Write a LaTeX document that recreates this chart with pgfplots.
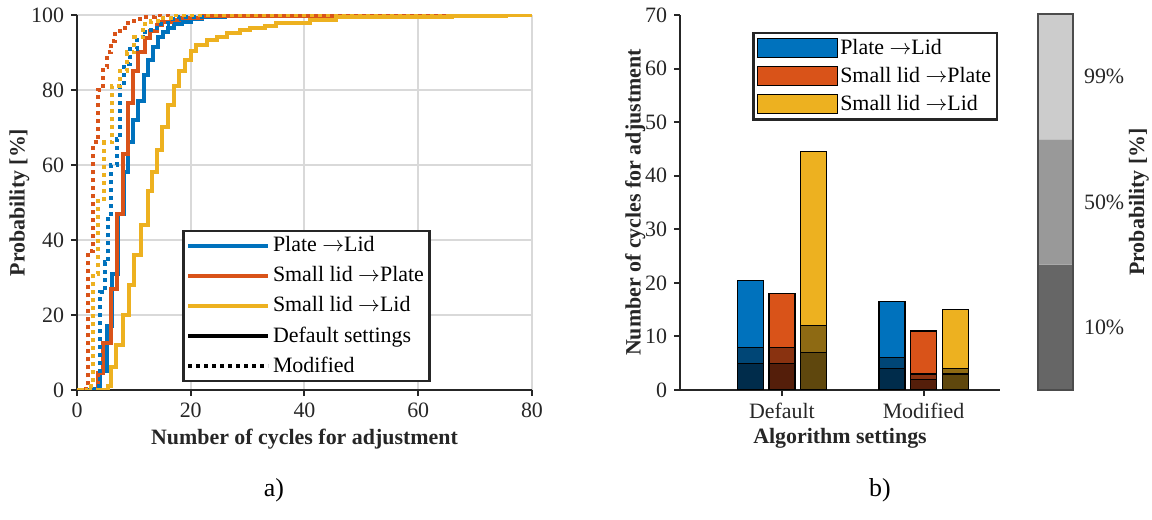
\documentclass[border=0pt]{standalone}
\usepackage{pgfplots}
\pgfplotsset{compat=1.18}
\usepackage{fontspec}
\setmainfont{Liberation Serif}
\definecolor{cB}{RGB}{0,114,189}
\definecolor{cR}{RGB}{217,83,25}
\definecolor{cY}{RGB}{237,177,32}
\definecolor{cBm}{RGB}{0,70,118}
\definecolor{cRm}{RGB}{137,50,16}
\definecolor{cYm}{RGB}{142,106,19}
\definecolor{cBd}{RGB}{0,44,75}
\definecolor{cRd}{RGB}{84,30,10}
\definecolor{cYd}{RGB}{95,71,13}
\definecolor{axc}{RGB}{38,38,38}
\definecolor{cb1}{RGB}{102,102,102}
\definecolor{cb2}{RGB}{153,153,153}
\definecolor{cb3}{RGB}{204,204,204}
\pgfplotsset{
  mystyle/.style={
    scale only axis,
    anchor=south west,
    axis x line*=bottom, axis y line*=left,
    axis line style={axc, line width=1.3bp, -},
    tick style={axc, line width=1bp},
    tick align=outside, major tick length=3bp,
    tick label style={font=\fontsize{11}{13}\selectfont, text=axc},
    /pgf/number format/assume math mode=true,
    label style={font=\bfseries\fontsize{11}{13}\selectfont, text=axc},
  }
}
\begin{document}
\begin{tikzpicture}
\useasboundingbox (0,0) rectangle (576bp,260bp);
% ---------------- a) ----------------
\begin{axis}[mystyle,
  at={(38.5bp,65bp)},
  width=227.5bp, height=187.5bp,
  xmin=0, xmax=80, ymin=0, ymax=100,
  xtick={0,20,...,80}, ytick={0,20,...,100},
  grid=major, major grid style={black!15, line width=1bp},
  xlabel={Number of cycles for adjustment},
  ylabel={Probability [\%]},
  xlabel style={yshift=1bp},
  ylabel style={yshift=-6bp},
  legend style={at={(0.231,0.427)}, anchor=north west, draw=axc, line width=1.3bp,
    font=\fontsize{11}{12}\selectfont, row sep=3.3bp, inner sep=1.5bp,
    nodes={inner sep=1.3bp}},
  legend cell align=left,
  legend image code/.code={\draw[#1, line width=2bp] (0bp,0bp) -- (40bp,0bp);},
]
% solid = default settings
\addplot[const plot, cB, line width=2bp] coordinates {
(0,0)(4,5)(5.2,17)(6.2,31)(7.2,47)(8.2,58)(9,66)(9.9,72)(10.8,77)(11.7,84)(12.5,88)
(13.4,91.5)(14.3,94.2)(15.2,95.5)(16,96.5)(17,97.5)(18.5,98.2)(20,99)(22,99.5)(26,99.8)(30,100)(80,100)};
\addlegendentry{Plate $\rightarrow$Lid}
\addplot[const plot, cR, line width=2bp] coordinates {
(0,0)(3.7,4.4)(4.6,12.4)(6,27)(7,47)(8.1,63)(8.9,76.5)(9.9,85)(10.8,90.2)(12,93.8)(12.8,95.6)
(14,97.3)(15,98)(16.5,98.7)(18,99.2)(22,99.6)(59,100)(80,100)};
\addlegendentry{Small lid $\rightarrow$Plate}
\addplot[const plot, cY, line width=2bp] coordinates {
(0,0)(5.5,1)(6,6)(6.8,12)(8.1,20)(9.2,28)(10.1,36)(11.2,44)(12.4,53)(13.1,58)(14,64)(15,70)
(16,76)(17,81)(18,85)(19,88)(20,90.5)(21,92)(22.8,93.3)(24.6,94.2)(26.3,95.1)(28.7,96)(30.4,96.5)
(33,97)(35,97.8)(41,98.7)(45.6,99.4)(66,99.7)(75.5,100)(80,100)};
\addlegendentry{Small lid $\rightarrow$Lid}
\addlegendimage{black, line width=2bp}
\addlegendentry{Default settings}
\addlegendimage{black, line width=2bp, dash pattern=on 2bp off 2bp}
\addlegendentry{Modified}
% dotted = modified
\addplot[forget plot, const plot, cB, line width=2bp, dash pattern=on 2bp off 2bp] coordinates {
(0,0)(3,1)(4,26)(4.9,34)(5.5,47)(6,60)(7,67)(7.5,81)(8.3,87)(9.3,91)(10.5,94)(12,96)(14,97.5)
(16,98.8)(18,99.5)(22,100)(80,100)};
\addplot[forget plot, const plot, cR, line width=2bp, dash pattern=on 2bp off 2bp] coordinates {
(0,0)(1.5,1)(2,37)(2.9,66)(3.7,80)(4.5,86)(5.2,90)(6,93)(6.7,95)(7.5,96.5)(8.4,97.8)(10,99)
(11.4,99.5)(13.7,100)(80,100)};
\addplot[forget plot, const plot, cY, line width=2bp, dash pattern=on 2bp off 2bp] coordinates {
(0,0)(2,1)(2.9,31)(3.7,51)(4.7,66)(6.2,81)(7.5,85)(8.8,90)(10,94)(11.6,97.5)(13,98.5)(14.6,99.3)
(17,100)(80,100)};
\end{axis}
% ---------------- b) ----------------
\begin{axis}[mystyle,
  at={(340bp,65bp)},
  width=160bp, height=187.5bp,
  xmin=0.28, xmax=2.54, ymin=0, ymax=70,
  xtick={1,2}, xticklabels={Default,Modified},
  ytick={0,10,...,70},
  xlabel={Algorithm settings},
  ylabel={Number of cycles for adjustment},
  xlabel style={yshift=2bp},
  ylabel style={yshift=-7bp},
  legend style={at={(0.225,0.955)}, anchor=north west, draw=axc, line width=1.3bp,
    font=\fontsize{11}{12}\selectfont, row sep=2.5bp, inner sep=1.8bp,
    nodes={inner sep=1.2bp}},
  legend cell align=left,
  legend image code/.code={\draw[#1, draw=black, line width=0.5bp] (0bp,-4.7bp) rectangle (40bp,4.7bp);},
]
\addplot[ybar, bar width=13bp, bar shift=-15.8bp, fill=cB, draw=black, line width=0.6bp] coordinates {(1,20.5)(2,16.5)};
\addlegendentry{Plate $\rightarrow$Lid}
\addplot[ybar, bar width=13bp, bar shift=0bp, fill=cR, draw=black, line width=0.6bp] coordinates {(1,18)(2,11)};
\addlegendentry{Small lid $\rightarrow$Plate}
\addplot[ybar, bar width=13bp, bar shift=15.8bp, fill=cY, draw=black, line width=0.6bp] coordinates {(1,44.5)(2,15)};
\addlegendentry{Small lid $\rightarrow$Lid}
% 50 %
\addplot[forget plot, ybar, bar width=13bp, bar shift=-15.8bp, fill=cBm, draw=black, line width=0.6bp] coordinates {(1,8)(2,6)};
\addplot[forget plot, ybar, bar width=13bp, bar shift=0bp, fill=cRm, draw=black, line width=0.6bp] coordinates {(1,8)(2,3)};
\addplot[forget plot, ybar, bar width=13bp, bar shift=15.8bp, fill=cYm, draw=black, line width=0.6bp] coordinates {(1,12)(2,4)};
% 10 %
\addplot[forget plot, ybar, bar width=13bp, bar shift=-15.8bp, fill=cBd, draw=black, line width=0.6bp] coordinates {(1,5)(2,4)};
\addplot[forget plot, ybar, bar width=13bp, bar shift=0bp, fill=cRd, draw=black, line width=0.6bp] coordinates {(1,5)(2,2)};
\addplot[forget plot, ybar, bar width=13bp, bar shift=15.8bp, fill=cYd, draw=black, line width=0.6bp] coordinates {(1,7)(2,3)};
\end{axis}
% ---------------- colour bar ----------------
\begin{axis}[
  scale only axis, anchor=south west,
  at={(519bp,65bp)},
  width=17.5bp, height=188bp,
  xmin=0, xmax=1, ymin=0, ymax=3,
  xtick=\empty, ytick={0.5,1.5,2.5}, yticklabels={10\%,50\%,99\%},
  yticklabel pos=right, major tick length=0bp,
  axis line style={black!70, line width=0.7bp},
  axis on top,
  tick label style={font=\fontsize{11}{13}\selectfont, text=axc},
  yticklabel style={xshift=2bp},
  ylabel={Probability [\%]},
  label style={font=\bfseries\fontsize{11}{13}\selectfont, text=axc},
  ylabel style={yshift=4.5bp},
]
\addplot[draw=none, fill=cb1] coordinates {(0,0)(1,0)(1,1)(0,1)(0,0)};
\addplot[draw=none, fill=cb2] coordinates {(0,1)(1,1)(1,2)(0,2)(0,1)};
\addplot[draw=none, fill=cb3] coordinates {(0,2)(1,2)(1,3)(0,3)(0,2)};
\end{axis}
\node[font=\fontsize{13}{15}\selectfont] at (137bp,15bp) {a)};
\node[font=\fontsize{13}{15}\selectfont] at (440bp,15bp) {b)};
\end{tikzpicture}
\end{document}
